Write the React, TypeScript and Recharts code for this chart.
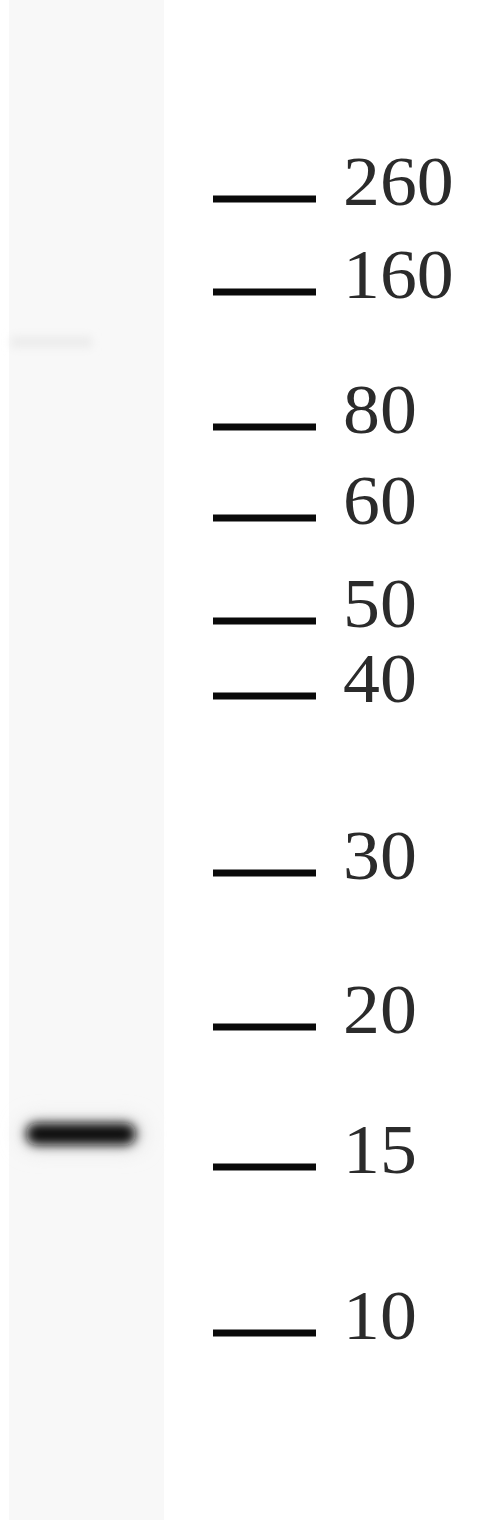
import React from 'react';
import { ComposedChart, XAxis, YAxis, Scatter, ReferenceLine, ReferenceArea } from 'recharts';

// Marker ladder (kDa) and their migration positions read from the blot
const markerLabels = ['260', '160', '80', '60', '50', '40', '30', '20', '15', '10'];
const markerMigration = [199, 292, 427, 518, 621, 696, 873, 1027, 1167, 1333];

// Detected band(s) in the sample lane
const bandLanes = ['Lane 1'];
const bandMigration = [1134];

const W = 495;
const H = 1520;
const LANE_LEFT = 9;
const LANE_RIGHT = 164;
const LANE_CENTER = 82;
const BAR_LEFT = 213;
const BAR_RIGHT = 316;
const LABEL_X = 343;

const bandData = bandLanes.map((lane, i) => ({ lane, x: LANE_CENTER, pos: bandMigration[i] }));
const markerData = markerLabels.map((label, i) => ({ label, pos: markerMigration[i] }));

const BandShape = (props: any) => {
  const { cx, cy } = props;
  if (cx == null || cy == null) return null;
  return (
    <g>
      <defs>
        <filter id="bandBlur" x="-50%" y="-300%" width="200%" height="700%">
          <feGaussianBlur stdDeviation="5.5" />
        </filter>
        <filter id="haloBlur" x="-50%" y="-300%" width="200%" height="700%">
          <feGaussianBlur stdDeviation="10" />
        </filter>
      </defs>
      <rect x={cx - 62} y={cy - 16} width={124} height={32} rx={16} fill="#e2e2e2" filter="url(#haloBlur)" />
      <rect x={cx - 56} y={cy - 11} width={110} height={22} rx={11} fill="#0e0e0e" filter="url(#bandBlur)" />
    </g>
  );
};

const SmudgeShape = (props: any) => {
  const { x, y, width, height } = props;
  return (
    <g>
      <defs>
        <filter id="smudgeBlur" x="-50%" y="-200%" width="200%" height="500%">
          <feGaussianBlur stdDeviation="4" />
        </filter>
      </defs>
      <rect x={x} y={y} width={width} height={height} fill="#ececec" filter="url(#smudgeBlur)" />
    </g>
  );
};

const makeMarkerShape = (label: string) => (props: any) => {
  const { x1, y1, x2, y2 } = props;
  return (
    <g>
      <line x1={x1} y1={y1} x2={x2} y2={y2} stroke="#0a0a0a" strokeWidth={7} />
      <text
        transform={`translate(${LABEL_X},${y1 + 6}) scale(1.07,1)`}
        x={0}
        y={0}
        fontFamily="'Liberation Serif', 'Times New Roman', serif"
        fontSize={69}
        fill="#2b2b2b"
      >
        {label}
      </text>
    </g>
  );
};

export default function App() {
  return (
    <div style={{ position: 'absolute', left: 0, top: 0, width: W, height: H, background: '#fff' }}>
      <ComposedChart width={W} height={H} margin={{ top: 0, right: 0, bottom: 0, left: 0 }} data={bandData}>
        <XAxis type="number" dataKey="x" domain={[0, W]} hide />
        <YAxis type="number" dataKey="pos" domain={[0, H]} reversed hide />
        <ReferenceArea x1={LANE_LEFT} x2={LANE_RIGHT} y1={0} y2={H} fill="#f8f8f8" fillOpacity={1} stroke="none" />
        <ReferenceArea x1={LANE_LEFT + 2} x2={92} y1={336} y2={348} shape={<SmudgeShape />} />
        {markerData.map((m) => (
          <ReferenceLine
            key={m.label}
            segment={[{ x: BAR_LEFT, y: m.pos }, { x: BAR_RIGHT, y: m.pos }]}
            shape={makeMarkerShape(m.label)}
            ifOverflow="visible"
          />
        ))}
        <Scatter data={bandData} dataKey="pos" shape={<BandShape />} isAnimationActive={false} />
      </ComposedChart>
    </div>
  );
}
